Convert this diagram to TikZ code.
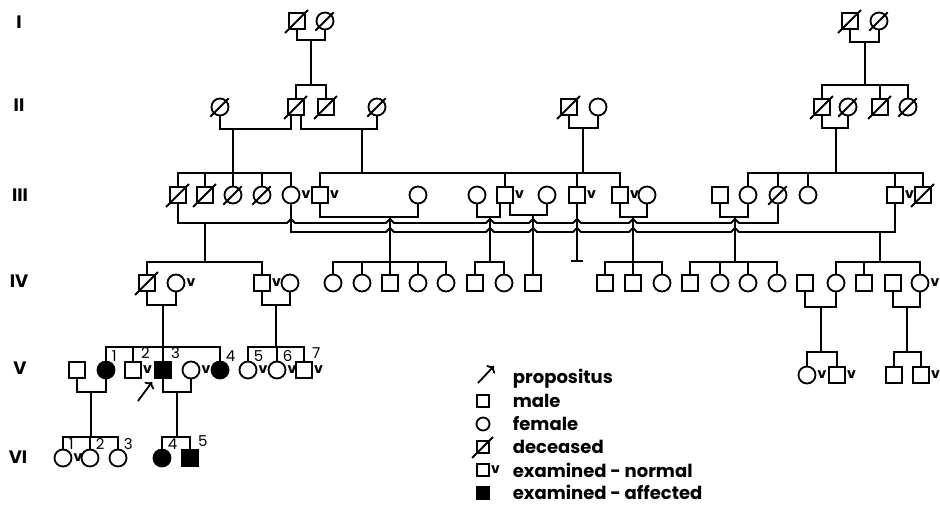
\documentclass[tikz,border=0pt]{standalone}
\usepackage{fontspec}
\setmainfont{Poppins}
\usetikzlibrary{arrows.meta}

\newcommand{\wed}[3]{\draw (#1) |- (#2 |- 0,#3) -- (#2);}
\newcommand{\sibs}[4]{\draw (#1) -- (#1 |- 0,#2); \draw (#3.north) |- (#4.north |- 0,#2) -- (#4.north);}
\newcommand{\drops}[2]{\foreach \kid in {#2} {\draw (\kid.north) -- (\kid.north |- 0,#1);}}

\tikzset{
  ml/.style={draw, rectangle, minimum size=16pt, inner sep=0pt},
  fm/.style={draw, circle, minimum size=17pt, inner sep=0pt},
  aff/.style={fill=black},
  chk/.style={label={[chklab]east:v}},
  chklab/.style={anchor=south west, inner sep=0.3pt, yshift=-5pt, font=\fontsize{14}{14}\selectfont\bfseries},
  numlab/.style={anchor=south west, inner sep=0.3pt, xshift=-2pt, yshift=1pt, font=\fontsize{15}{15}\selectfont},
  gen/.style={font=\fontsize{18}{18}\selectfont\bfseries},
  txt/.style={anchor=base west, inner sep=0pt, font=\fontsize{18}{18}\selectfont\bfseries},
}

\begin{document}
\begin{tikzpicture}[x=1pt, y=-1pt, line width=1.8pt]
   \useasboundingbox (0,0) rectangle (940,505);

   \node[gen] (gI) at (19,22) {I};
   \node[gen] (gII) at (19,105) {II};
   \node[gen] (gIII) at (20,195) {III};
   \node[gen] (gIV) at (19,281) {IV};
   \node[gen] (gV) at (20,368) {V};
   \node[gen] (gVI) at (18,457) {VI};

   \node[ml] (I1) at (297,21) {};
   \node[fm] (I2) at (325,21) {};
   \node[ml] (I3) at (850,21) {};
   \node[fm] (I4) at (879,21) {};

   \node[fm] (IIa) at (220,107) {};
   \node[ml] (IIb) at (296,107) {};
   \node[ml] (IIc) at (326,107) {};
   \node[fm] (IId) at (377,107) {};
   \node[ml] (IIe) at (569,107) {};
   \node[fm] (IIf) at (598,107) {};
   \node[ml] (IIg) at (822,107) {};
   \node[fm] (IIh) at (848,107) {};
   \node[ml] (IIi) at (880,107) {};
   \node[fm] (IIj) at (908,107) {};

   \node[ml] (IIIa) at (178,195) {};
   \node[ml] (IIIb) at (205,195) {};
   \node[fm] (IIIc) at (233,195) {};
   \node[fm] (IIId) at (262,195) {};
   \node[fm, chk] (IIIe) at (291,195) {};
   \node[ml, chk] (IIIf) at (320,195) {};
   \node[fm] (IIIg) at (418,195) {};
   \node[fm] (IIIh) at (477,195) {};
   \node[ml, chk] (IIIi) at (505,195) {};
   \node[fm] (IIIj) at (547,195) {};
   \node[ml, chk] (IIIk) at (577,195) {};
   \node[ml, chk] (IIIl) at (620,195) {};
   \node[fm] (IIIm) at (647,195) {};
   \node[ml] (IIIn) at (720,195) {};
   \node[fm] (IIIo) at (748,195) {};
   \node[fm] (IIIp) at (778,195) {};
   \node[fm] (IIIq) at (808,195) {};
   \node[ml, chk] (IIIr) at (895,195) {};
   \node[ml] (IIIs) at (923,195) {};

   \node[ml] (IVa) at (147,283) {};
   \node[fm, chk] (IVb) at (176,283) {};
   \node[ml, chk] (IVc) at (262,283) {};
   \node[fm] (IVd) at (290,283) {};
   \node[fm] (IVe) at (333,283) {};
   \node[fm] (IVf) at (362,283) {};
   \node[ml] (IVg) at (390,283) {};
   \node[fm] (IVh) at (418,283) {};
   \node[fm] (IVi) at (446,283) {};
   \node[ml] (IVj) at (475,283) {};
   \node[fm] (IVk) at (504,283) {};
   \node[ml] (IVl) at (533,283) {};
   \node[ml] (IVm) at (605,283) {};
   \node[ml] (IVn) at (633,283) {};
   \node[fm] (IVo) at (662,283) {};
   \node[ml] (IVp) at (690,283) {};
   \node[fm] (IVq) at (720,283) {};
   \node[fm] (IVr) at (748,283) {};
   \node[fm] (IVs) at (777,283) {};
   \node[ml] (IVt) at (805,283) {};
   \node[fm] (IVu) at (836,283) {};
   \node[ml] (IVv) at (864,283) {};
   \node[ml] (IVw) at (893,283) {};
   \node[fm, chk] (IVx) at (920,283) {};

   \node[ml] (Va) at (77,370) {};
   \node[fm, aff, label={[numlab]north east:1}] (Vb) at (106,370) {};
   \node[ml, chk, label={[numlab]north east:2}] (Vc) at (133,370) {};
   \node[ml, aff, label={[numlab]north east:3}] (Vd) at (163,370) {};
   \node[fm, chk] (Ve) at (191,370) {};
   \node[fm, aff, label={[numlab]north east:4}] (Vf) at (220,370) {};
   \node[fm, chk, label={[numlab]north east:5}] (Vg) at (248,370) {};
   \node[fm, chk, label={[numlab]north east:6}] (Vh) at (277,370) {};
   \node[ml, chk, label={[numlab]north east:7}] (Vi) at (304,370) {};
   \node[fm, chk] (Vj) at (807,375) {};
   \node[ml, chk] (Vk) at (837,375) {};
   \node[ml] (Vl) at (894,375) {};
   \node[ml, chk] (Vm) at (921,375) {};

   \node[fm, chk, label={[numlab]north east:1}] (VIa) at (63,458) {};
   \node[fm, label={[numlab]north east:2}] (VIb) at (90,458) {};
   \node[fm, label={[numlab]north east:3}] (VIc) at (118,458) {};
   \node[fm, aff, label={[numlab]north east:4}] (VId) at (162,458) {};
   \node[ml, aff, label={[numlab]north east:5}] (VIe) at (190,458) {};

   \foreach \n in {I1,I2,I3,I4,IIa,IIb,IIc,IId,IIe,IIg,IIh,IIi,IIj,IIIa,IIIb,IIIc,IIId,IIIp,IIIs,IVa}
   \draw ([shift={(-3pt,-3pt)}]\n.south west) -- ([shift={(2pt,2pt)}]\n.north east);

   \coordinate (dI1) at (311,40);
   \coordinate (dI2) at (865,42);
   \coordinate (dIIab) at (233,129);
   \coordinate (dIIbd) at (362,129);
   \coordinate (dIIef) at (583,128);
   \coordinate (dIIgh) at (836,128);
   \coordinate (dIIIfg) at (390,217);
   \coordinate (dIIIhi) at (490,217);
   \coordinate (dIIIij) at (533,215);
   \coordinate (dIIIlm) at (633,217);
   \coordinate (dIIIno) at (735,217);
   \coordinate (dL1) at (205,223);
   \coordinate (dL2) at (880,232);
   \coordinate (dIVab) at (163,305);
   \coordinate (dIVcd) at (276,305);
   \coordinate (dIVtu) at (821,307);
   \coordinate (dIVwx) at (907,307);
   \coordinate (dVab) at (91,392);
   \coordinate (dVde) at (177,392);

   \wed{I1.south}{I2.south}{40}
   \wed{I3.south}{I4.south}{42}
   \wed{IIa.south}{IIb.-120}{129}
   \wed{IIb.-60}{IId.south}{129}
   \wed{IIe.south}{IIf.south}{128}
   \wed{IIg.south}{IIh.south}{128}
   \wed{IIIf.south}{IIIg.south}{217}
   \wed{IIIh.south}{IIIi.-120}{217}
   \wed{IIIi.-60}{IIIj.south}{215}
   \wed{IIIl.south}{IIIm.south}{217}
   \wed{IIIn.south}{IIIo.south}{217}
   \wed{IVa.south}{IVb.south}{305}
   \wed{IVc.south}{IVd.south}{305}
   \wed{IVt.south}{IVu.south}{307}
   \wed{IVw.south}{IVx.south}{307}
   \wed{Va.south}{Vb.south}{392}
   \wed{Vd.south}{Ve.south}{392}

   \draw (IIIa.south) -- (IIIa.south |- 0,223)
     \foreach \h in {291,390,490,533,577,633,735} {-- (\h-4,223) -- (\h,219) -- (\h+4,223)}
     -| (IIIp.south);
   \draw (IIIe.south) -- (IIIe.south |- 0,232)
     \foreach \h in {390,490,533,577,633,735} {-- (\h-4,232) -- (\h,228) -- (\h+4,232)}
     -| (IIIr.south);
   \draw (IIIk.south) -- (IIIk.south |- 0,261) coordinate (tk);
   \draw ([xshift=-6pt]tk) -- ([xshift=6pt]tk);

   \sibs{dI1}{85}{IIb}{IIc}
   \sibs{dI2}{85}{IIg}{IIj} \drops{85}{IIi}
   \sibs{dIIab}{173}{IIIa}{IIIe} \drops{173}{IIIb,IIIc,IIId}
   \sibs{dIIbd}{173}{IIIf}{IIIl} \drops{173}{IIIi,IIIk}
   \draw (dIIef) -- (dIIef |- 0,173);
   \sibs{dIIgh}{173}{IIIo}{IIIs} \drops{173}{IIIp,IIIq,IIIr}
   \sibs{dL1}{262}{IVa}{IVc}
   \sibs{dIIIfg}{262}{IVe}{IVi} \drops{262}{IVf,IVg,IVh}
   \sibs{dIIIhi}{262}{IVj}{IVk}
   \draw (dIIIij) -- (IVl.north);
   \sibs{dIIIlm}{262}{IVm}{IVo} \drops{262}{IVn}
   \sibs{dIIIno}{262}{IVp}{IVs} \drops{262}{IVq,IVr}
   \sibs{dL2}{262}{IVu}{IVx} \drops{262}{IVv}
   \sibs{dIVab}{347}{Vb}{Vf} \drops{347}{Vc,Vd}
   \sibs{dIVcd}{347}{Vg}{Vi} \drops{347}{Vh}
   \sibs{dIVtu}{352}{Vj}{Vk}
   \sibs{dIVwx}{352}{Vl}{Vm}
   \sibs{dVab}{437}{VIa}{VIc} \drops{437}{VIb}
   \sibs{dVde}{437}{VId}{VIe}

   \coordinate (pr) at (138,401);
   \draw[->] (pr) -- ([shift={(-2pt,-3pt)}]Vd.south west);

   \coordinate (pa) at (478,383);
   \coordinate (pb) at (494,366);
   \draw[->] (pa) -- (pb);
   \node[txt] (tP) at (512,383) {propositus};
   \node[ml, minimum size=12pt] (lM) at (483,401) {};
   \node[txt] (tM) at (512,407) {male};
   \node[fm, minimum size=13pt] (lF) at (483,424) {};
   \node[txt] (tF) at (512,430) {female};
   \node[ml, minimum size=12pt] (lD) at (483,447) {};
   \draw ([shift={(-4pt,-4pt)}]lD.south west) -- ([shift={(3pt,3pt)}]lD.north east);
   \node[txt] (tD) at (512,453) {deceased};
   \node[ml, minimum size=12pt, chk] (lN) at (483,470) {};
   \node[txt] (tN) at (512,477) {examined - normal};
   \node[ml, minimum size=12pt, aff] (lA) at (483,493) {};
   \node[txt] (tA) at (512,499) {examined - affected};

\end{tikzpicture}
\end{document}
